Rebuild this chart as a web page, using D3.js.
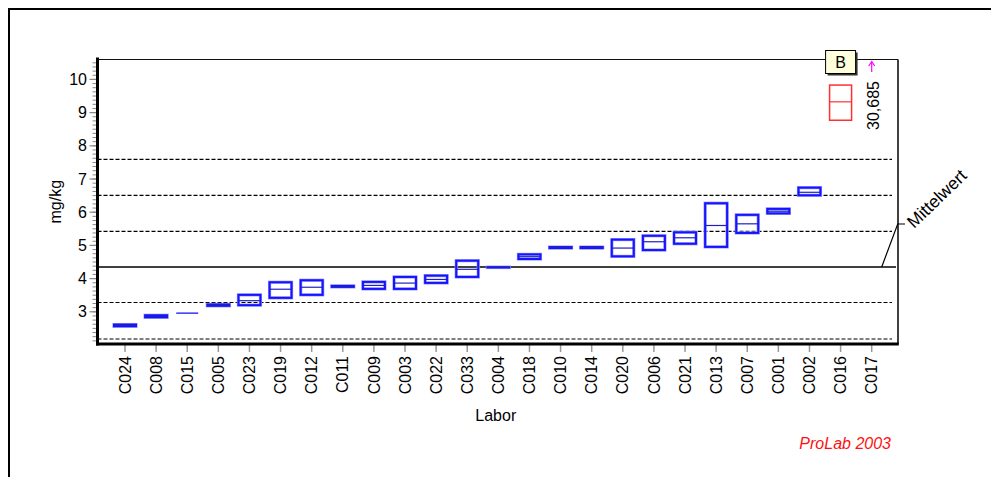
<!DOCTYPE html>
<html><head><meta charset="utf-8">
<script src="https://cdn.jsdelivr.net/npm/d3@7/dist/d3.min.js"></script>
<style>body{margin:0;background:#fff}svg{display:block}text{font-family:"Liberation Sans",Arial,sans-serif;font-size:16px;fill:#000}</style>
</head><body>
<svg id="c" width="991" height="477"></svg>
<script>
const labs = ["C024","C008","C015","C005","C023","C019","C012","C011","C009","C003","C022","C033","C004","C018","C010","C014","C020","C006","C021","C013","C007","C001","C002","C016","C017"];
const lo  = [2.565,2.835,2.96,3.18,3.20,3.42,3.51,3.75,3.69,3.69,3.87,4.05,4.335,4.59,4.92,4.92,4.67,4.86,5.05,4.955,5.375,5.965,6.51,8.77,null];
const med = [2.59,2.865,2.96,3.20,3.335,3.68,3.74,3.765,3.795,3.865,3.975,4.28,4.34,4.66,4.935,4.935,4.92,5.11,5.23,5.60,5.65,6.03,6.60,9.325,30.685];
const hi  = [2.615,2.895,2.96,3.22,3.51,3.89,3.95,3.78,3.90,4.05,4.09,4.54,4.345,4.73,4.95,4.95,5.175,5.29,5.395,6.27,5.92,6.10,6.74,9.83,null];
const flagged = {"C016":"B"};
const meanValue = 4.35;
const meanLabel = "Mittelwert";
const limitLines = [2.18,3.28,5.42,6.51,7.59];
const yTicks = [3,4,5,6,7,8,9,10];
const yLabel = "mg/kg", xLabel = "Labor", credit = "ProLab 2003";

const svg = d3.select("#c");
const L = 97.5, R = 898, T = 59.5, B = 344;
const y = d3.scaleLinear().domain([2.03,10.6]).range([B,T]);
const x = d3.scalePoint().domain(labs).range([125,871.7]);
const yMin = y.domain()[0], yMax = y.domain()[1];

// outer frame
svg.append("path").attr("d","M9,477V9H991").attr("fill","none").attr("stroke","#000").attr("stroke-width",2);

// plot frame
svg.append("line").attr("x1",L).attr("x2",R).attr("y1",T).attr("y2",T).attr("stroke","#111").attr("stroke-width",1.2);
svg.append("line").attr("x1",R).attr("x2",R).attr("y1",T).attr("y2",B).attr("stroke","#111").attr("stroke-width",1.6);

// limit lines
svg.selectAll(".lim").data(limitLines).enter().append("line")
  .attr("x1",L).attr("x2",892).attr("y1",d=>y(d)).attr("y2",d=>y(d))
  .attr("stroke","#000").attr("stroke-width",1.2).attr("stroke-dasharray","4,2");
// mean line
svg.append("line").attr("x1",L).attr("x2",896).attr("y1",y(meanValue)).attr("y2",y(meanValue))
  .attr("stroke","#000").attr("stroke-width",1.4);
svg.append("path").attr("d",`M881.7,${y(meanValue)}L897.7,224H905`).attr("fill","none").attr("stroke","#000").attr("stroke-width",1.2);
svg.append("text").attr("transform","translate(914,229) rotate(-44)").style("font-size","17.5px").text(meanLabel);

// y minor ticks
const minor = d3.range(Math.ceil(yMin*8)/8, yMax, 0.125);
svg.selectAll(".mt").data(minor).enter().append("line")
  .attr("x1",L-5).attr("x2",L).attr("y1",d=>y(d)).attr("y2",d=>y(d))
  .attr("stroke","#888").attr("stroke-width",1);
svg.selectAll(".Mt").data(yTicks).enter().append("line")
  .attr("x1",L-8).attr("x2",L).attr("y1",d=>y(d)).attr("y2",d=>y(d))
  .attr("stroke","#888").attr("stroke-width",1.2);
svg.selectAll(".yl").data(yTicks).enter().append("text")
  .attr("x",87).attr("y",d=>y(d)).attr("dy","0.35em").attr("text-anchor","end").text(d=>d);

// x ticks
svg.selectAll(".xt").data(labs).enter().append("line")
  .attr("x1",d=>x(d)).attr("x2",d=>x(d)).attr("y1",B).attr("y2",352)
  .attr("stroke","#999").attr("stroke-width",1.5);
svg.selectAll(".xl").data(labs).enter().append("text")
  .attr("transform",d=>`translate(${x(d)},356) rotate(-90)`)
  .attr("dy","0.35em").attr("text-anchor","end").text(d=>d);

// axes lines
svg.append("line").attr("x1",L).attr("x2",L).attr("y1",T-2).attr("y2",B+1.5).attr("stroke","#000").attr("stroke-width",3);
svg.append("line").attr("x1",L-1.5).attr("x2",R+0.8).attr("y1",B).attr("y2",B).attr("stroke","#000").attr("stroke-width",3);

// boxes
const bw = 22;
labs.forEach((lab,i)=>{
  const cx = x(lab);
  if (lo[i]===null) {
    // off-scale value: arrow at top
    svg.append("line").attr("x1",cx).attr("x2",cx).attr("y1",72).attr("y2",62).attr("stroke","#ff00ff").attr("stroke-width",1.2);
    svg.append("path").attr("d",`M${cx-3},66L${cx},61.5L${cx+3},66`).attr("fill","none").attr("stroke","#ff00ff").attr("stroke-width",1.2);
    svg.append("text").attr("transform",`translate(${cx+2},130) rotate(-90)`).attr("dy","0.35em").text(String(med[i]).replace(".",","));
    return;
  }
  const isFlag = flagged[lab];
  const col = isFlag ? "#ff3030" : "#1414ff";
  if (hi[i]===lo[i]) {
    svg.append("line").attr("x1",cx-bw/2).attr("x2",cx+bw/2).attr("y1",y(med[i])).attr("y2",y(med[i]))
      .attr("stroke",col).attr("stroke-width",1.3);
    return;
  }
  const yt = y(hi[i]), yb = y(lo[i]);
  if (!isFlag) {
    svg.append("rect").attr("x",cx-bw/2).attr("y",yt).attr("width",bw).attr("height",yb-yt)
      .attr("fill","none").attr("stroke","#9a9aff").attr("stroke-width",3.2);
  }
  svg.append("rect").attr("x",cx-bw/2).attr("y",yt).attr("width",bw).attr("height",yb-yt)
    .attr("fill","none").attr("stroke",col).attr("stroke-width",isFlag?1.5:2);
  svg.append("line").attr("x1",cx-bw/2).attr("x2",cx+bw/2).attr("y1",y(med[i])).attr("y2",y(med[i]))
    .attr("stroke",isFlag?col:"#2020c0").attr("stroke-width",1.2);
  if (isFlag) {
    const bx = cx-15, by = 50.5;
    svg.append("rect").attr("x",bx+2).attr("y",by+2).attr("width",30).attr("height",23).attr("fill","#333");
    svg.append("rect").attr("x",bx).attr("y",by).attr("width",30).attr("height",23).attr("fill","#ffffdc").attr("stroke","#000").attr("stroke-width",1);
    svg.append("text").attr("x",bx+15).attr("y",by+11.5).attr("dy","0.35em").attr("text-anchor","middle").text(isFlag);
  }
});

// axis titles
svg.append("text").attr("transform",`translate(61,${(T+B)/2}) rotate(-90)`).attr("text-anchor","middle").text(yLabel);
svg.append("text").attr("x",(L+R)/2-2).attr("y",421).attr("text-anchor","middle").text(xLabel);
svg.append("text").attr("x",891).attr("y",449).attr("text-anchor","end").style("fill","#ff1010").style("font-style","italic").text(credit);
</script>
</body></html>
